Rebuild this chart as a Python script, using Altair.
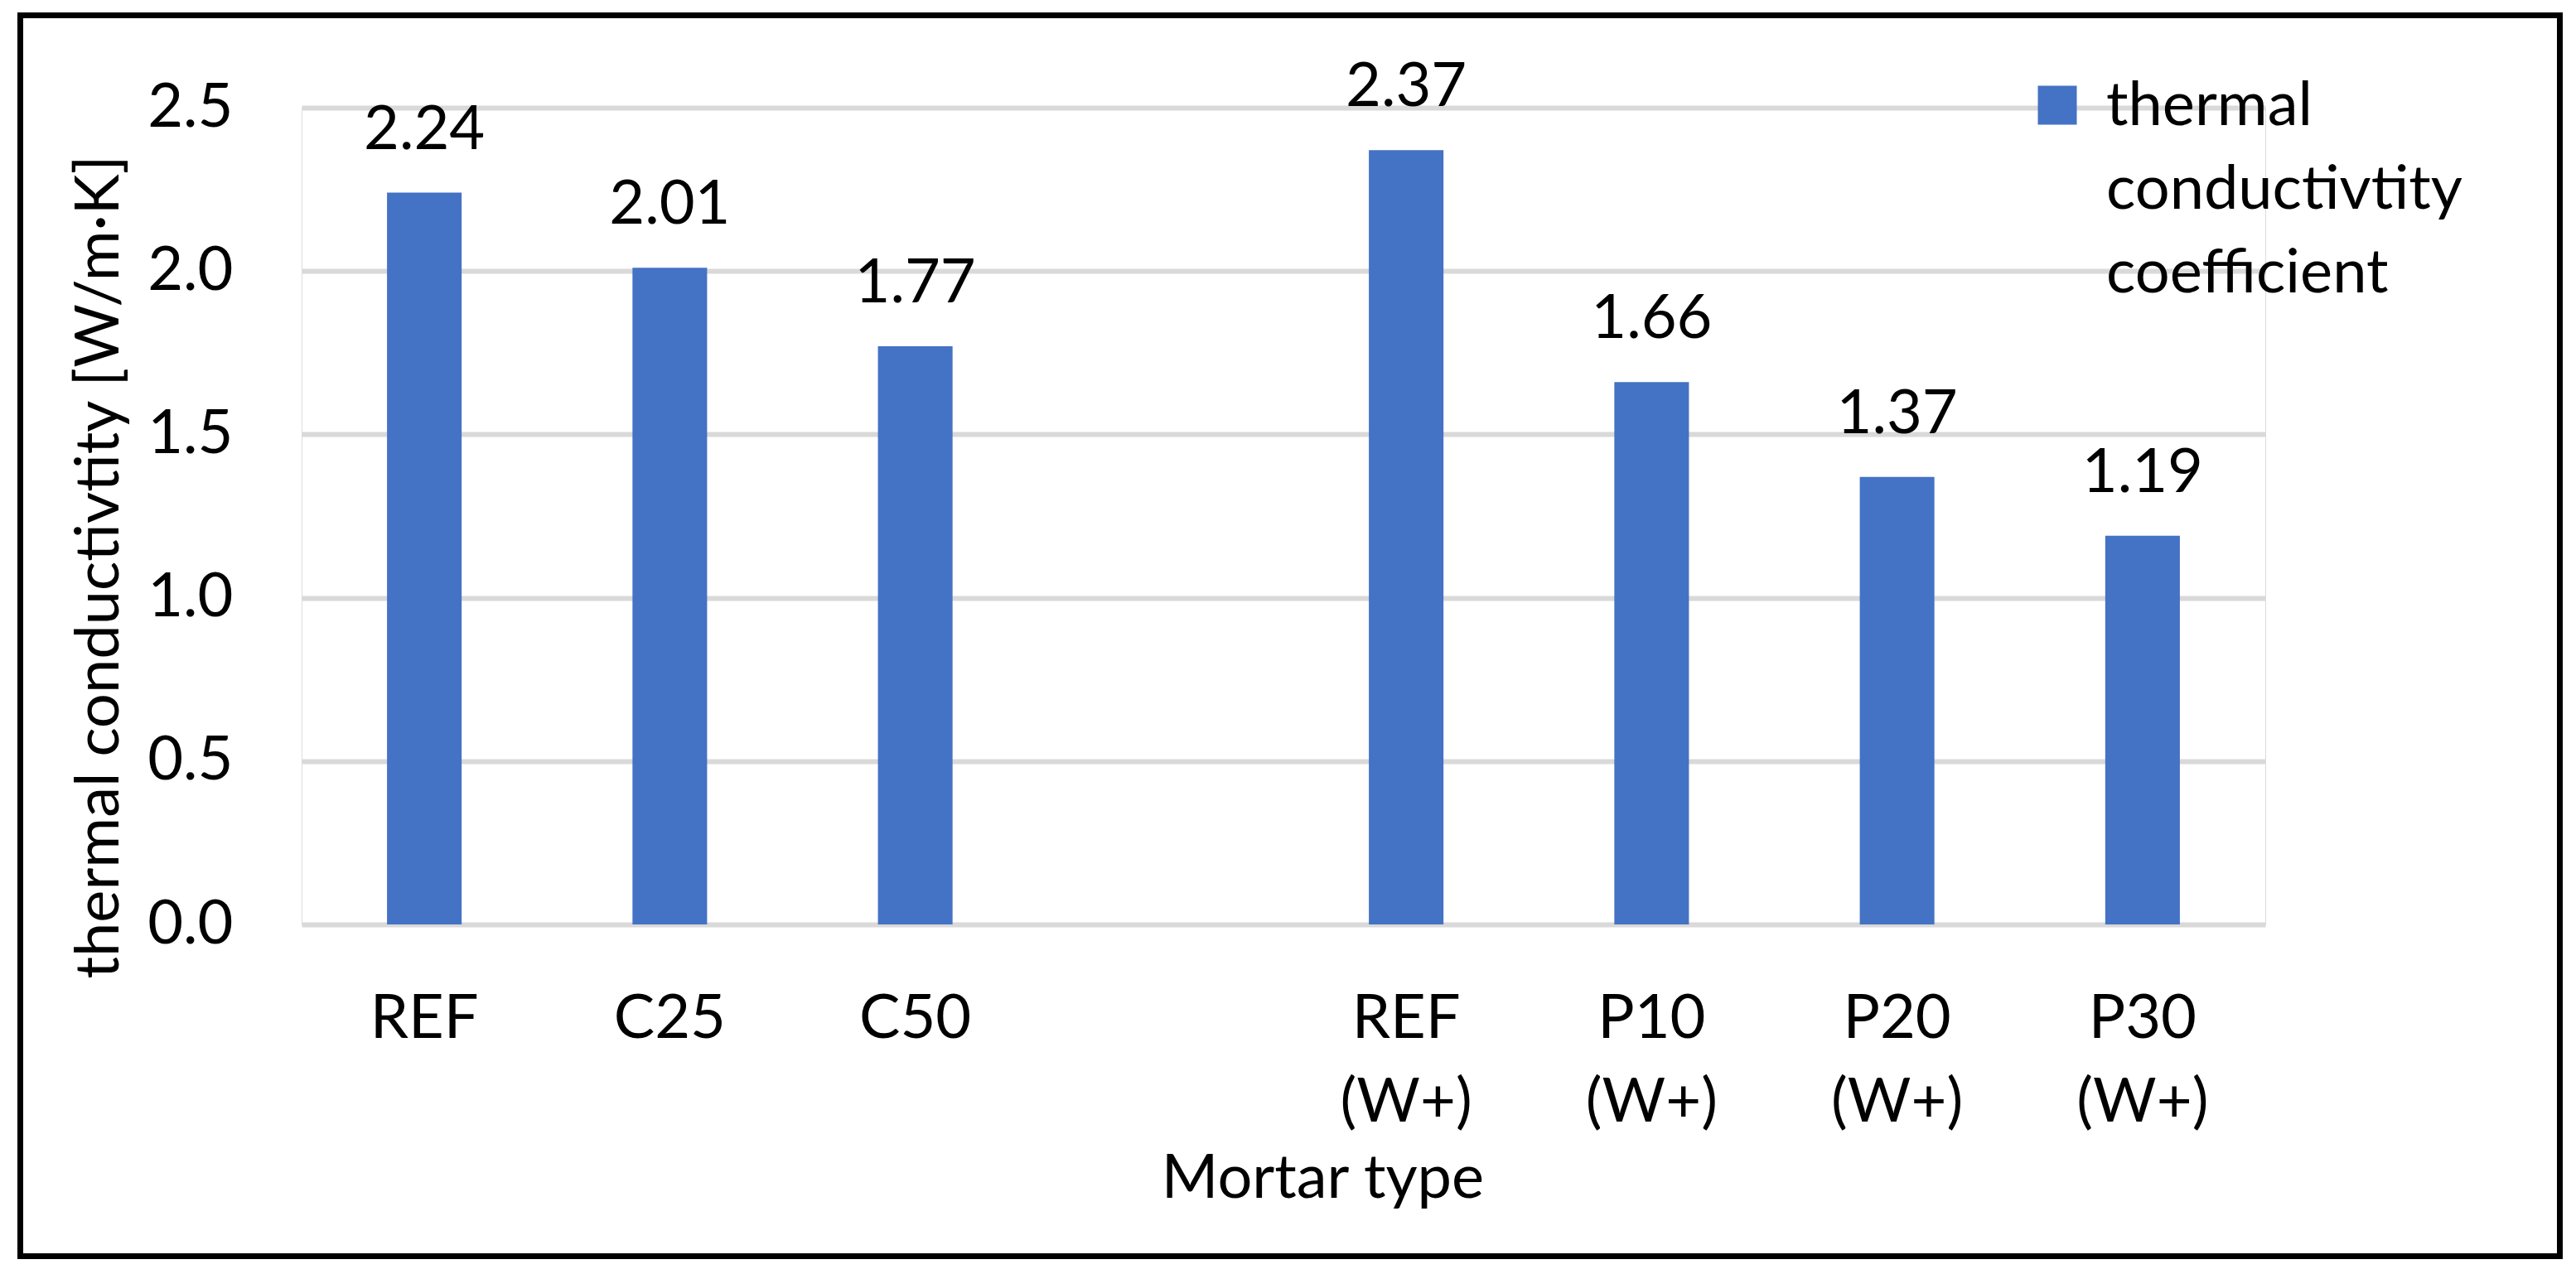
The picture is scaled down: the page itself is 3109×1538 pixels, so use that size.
import altair as alt
import pandas as pd

# ---- data ----
categories = ["REF", "C25", "C50", "REF (W+)", "P10 (W+)", "P20 (W+)", "P30 (W+)"]
values = [2.24, 2.01, 1.77, 2.37, 1.66, 1.37, 1.19]
x_order = ["REF", "C25", "C50", " ", "REF (W+)", "P10 (W+)", "P20 (W+)", "P30 (W+)"]
y_ticks = [0.0, 0.5, 1.0, 1.5, 2.0, 2.5]
series_name = "thermal conductivtity coefficient"

df = pd.DataFrame({"type": categories, "value": values, "series": series_name})

FONT = "Lato"
FS = 74
BLUE = "#4472C4"

x_enc = alt.X(
    "type:N",
    sort=x_order,
    scale=alt.Scale(domain=x_order, paddingInner=0.696, paddingOuter=0.348),
    axis=alt.Axis(
        labelExpr="split(datum.label, ' ')",
        labelAngle=0,
        labelPadding=78,
        labelLineHeight=101,
        labelBaseline="top",
        labelFont=FONT,
        labelFontSize=FS,
        labelColor="black",
        labelLimit=0,
        domain=False,
        ticks=False,
        grid=False,
        title="Mortar type",
        titleFont=FONT,
        titleFontSize=FS,
        titleFontWeight="normal",
        titleColor="black",
        titleX=1232,
        titleY=329,
        titleAlign="center",
        titleBaseline="alphabetic",
    ),
)

y_enc = alt.Y(
    "value:Q",
    scale=alt.Scale(domain=[0, 2.5], nice=False),
    axis=alt.Axis(
        values=y_ticks,
        format=".1f",
        grid=True,
        gridColor="#D9D9D9",
        gridWidth=6,
        domain=False,
        ticks=False,
        labelPadding=83,
        labelFont=FONT,
        labelFontSize=FS,
        labelColor="black",
        title="thermal conductivtity [W/m·K]",
        titleFont=FONT,
        titleFontSize=FS,
        titleFontWeight="normal",
        titleColor="black",
        titleAngle=270,
        titleX=-222,
        titleY=554,
        titleAlign="center",
        titleBaseline="alphabetic",
    ),
)

base = alt.Chart(df)

bars = base.mark_bar().encode(
    x=x_enc,
    y=y_enc,
    color=alt.Color(
        "series:N",
        scale=alt.Scale(range=[BLUE]),
        legend=alt.Legend(
            title=None,
            orient="none",
            legendX=2082,
            legendY=-16,
            padding=0,
            labelExpr="split(datum.label, ' ')",
            labelFont=FONT,
            labelFontSize=FS,
            labelColor="black",
            labelLimit=0,
            labelOffset=22,
            labelBaseline="alphabetic",
            symbolType="M-1,-2.02H1V-0.02H-1Z",
            symbolSize=2209,
            symbolStrokeWidth=0,
        ),
    ),
)

labels = base.mark_text(
    dy=-53, baseline="alphabetic", font=FONT, fontSize=FS, color="black"
).encode(x=alt.X("type:N", sort=x_order), y="value:Q", text=alt.Text("value:Q", format=".2f"))

frame = alt.Chart(pd.DataFrame({"f": [0]})).mark_rect(
    fill=None, stroke="black", strokeWidth=7, clip=False
).encode(
    x=alt.value(-339.5),
    x2=alt.value(2725.5),
    y=alt.value(-111.5),
    y2=alt.value(1386.5),
)

chart = (
    alt.layer(bars, labels, frame)
    .properties(width=2370, height=986, padding={"left": 13, "top": 7, "right": 5, "bottom": 5})
    .configure_view(stroke=None)
    .configure(style={"guide-label": {"lineHeight": 101}})
)

chart.save("out.html", embed_options={"renderer": "svg", "actions": False})
